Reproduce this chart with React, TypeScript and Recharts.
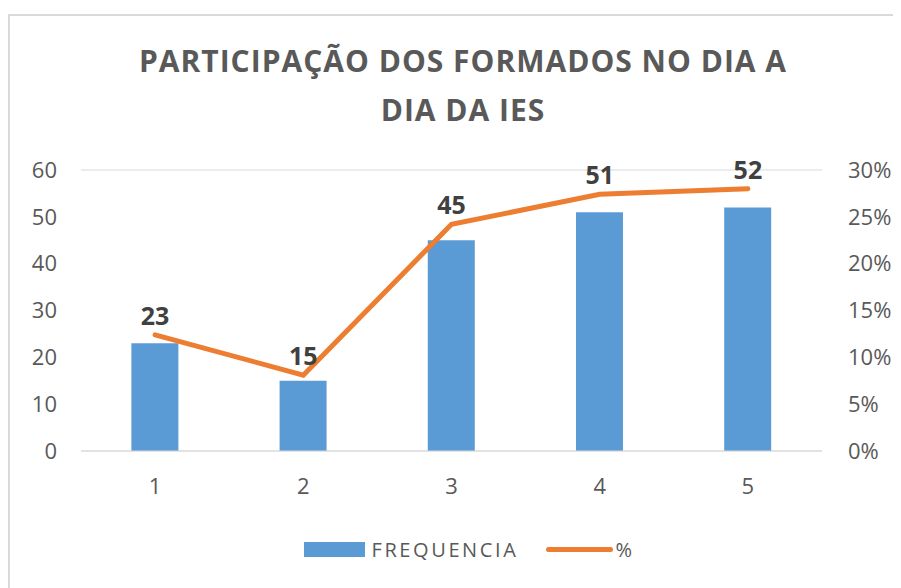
import React from "react";
import {
    ComposedChart,
    Bar,
    Line,
    XAxis,
    YAxis,
    CartesianGrid,
    Legend,
    LabelList,
} from "recharts";

const categories = ["1", "2", "3", "4", "5"];
const frequencia = [23, 15, 45, 51, 52];
const percentual = [0.124, 0.081, 0.242, 0.274, 0.28];
const leftTicks = [0, 10, 20, 30, 40, 50, 60];
const rightTicks = [0, 0.05, 0.1, 0.15, 0.2, 0.25, 0.3];

const BAR_COLOR = "#5b9bd5";
const LINE_COLOR = "#ed7d31";
const TEXT_COLOR = "#595959";
const FONT = "'Open Sans', sans-serif";

const chartData = categories.map((c, i) => ({
    name: c,
    freq: frequencia[i],
    pct: percentual[i],
}));

function LegendContent() {
    return (
        <div
            style={{
                display: "flex",
                justifyContent: "center",
                alignItems: "center",
                paddingLeft: 28,
                fontFamily: FONT,
                fontSize: 20,
                letterSpacing: 2.6,
                color: TEXT_COLOR,
                height: 30,
            }}
        >
            <span
                style={{
                    display: "inline-block",
                    width: 61,
                    height: 15,
                    background: BAR_COLOR,
                    marginRight: 6,
                }}
            />
            <span style={{ marginRight: 28 }}>FREQUENCIA</span>
            <span
                style={{
                    display: "inline-block",
                    width: 67,
                    height: 5,
                    borderRadius: 3,
                    background: LINE_COLOR,
                    marginRight: 2,
                }}
            />
            <span>%</span>
        </div>
    );
}

export default function App() {
    return (
        <div style={{ paddingTop: 6 }}>
            <div
                style={{
                    position: "relative",
                    width: 900,
                    height: 572,
                    borderTop: "2px solid #d9d9d9",
                    borderLeft: "2px solid #d9d9d9",
                    background: "#fff",
                }}
            >
                <div
                    style={{
                        position: "absolute",
                        top: 20,
                        left: 0,
                        width: 906,
                        textAlign: "center",
                        fontFamily: FONT,
                        fontWeight: 700,
                        fontSize: 30,
                        letterSpacing: 1,
                        lineHeight: "49px",
                        color: TEXT_COLOR,
                    }}
                >
                    PARTICIPAÇÃO DOS FORMADOS NO DIA A
                    <br />
                    DIA DA IES
                </div>
                <ComposedChart
                    width={891}
                    height={572}
                    data={chartData}
                    margin={{ top: 154, right: 0, bottom: 24, left: 0 }}
                    barCategoryGap="34%"
                >
                    <CartesianGrid
                        vertical={false}
                        stroke="#d9d9d9"
                        strokeWidth={1}
                    />
                    <XAxis
                        dataKey="name"
                        height={83}
                        axisLine={{ stroke: "#d9d9d9" }}
                        tickLine={false}
                        tickSize={0}
                        tickMargin={27}
                        tick={{ fill: TEXT_COLOR, fontSize: 22, fontFamily: FONT }}
                    />
                    <YAxis
                        yAxisId="left"
                        width={71}
                        domain={[0, 60]}
                        ticks={leftTicks}
                        axisLine={false}
                        tickLine={false}
                        tickSize={0}
                        tickMargin={24}
                        tick={{ fill: TEXT_COLOR, fontSize: 22, fontFamily: FONT }}
                    />
                    <YAxis
                        yAxisId="right"
                        orientation="right"
                        width={79}
                        domain={[0, 0.3]}
                        ticks={rightTicks}
                        axisLine={false}
                        tickLine={false}
                        tickSize={0}
                        tickMargin={26}
                        tickFormatter={(v: number) => `${Math.round(v * 100)}%`}
                        tick={{ fill: TEXT_COLOR, fontSize: 22, fontFamily: FONT }}
                    />
                    <Legend
                        verticalAlign="bottom"
                        height={30}
                        content={() => <LegendContent />}
                    />
                    <Bar
                        yAxisId="left"
                        dataKey="freq"
                        name="FREQUENCIA"
                        fill={BAR_COLOR}
                        isAnimationActive={false}
                    />
                    <Line
                        yAxisId="right"
                        dataKey="pct"
                        name="%"
                        type="linear"
                        stroke={LINE_COLOR}
                        strokeWidth={5}
                        strokeLinecap="round"
                        dot={false}
                        activeDot={false}
                        isAnimationActive={false}
                    >
                        <LabelList
                            dataKey="freq"
                            position="top"
                            offset={10}
                            fill="#404040"
                            fontSize={25}
                            fontWeight={700}
                            fontFamily={FONT}
                        />
                    </Line>
                </ComposedChart>
            </div>
        </div>
    );
}
